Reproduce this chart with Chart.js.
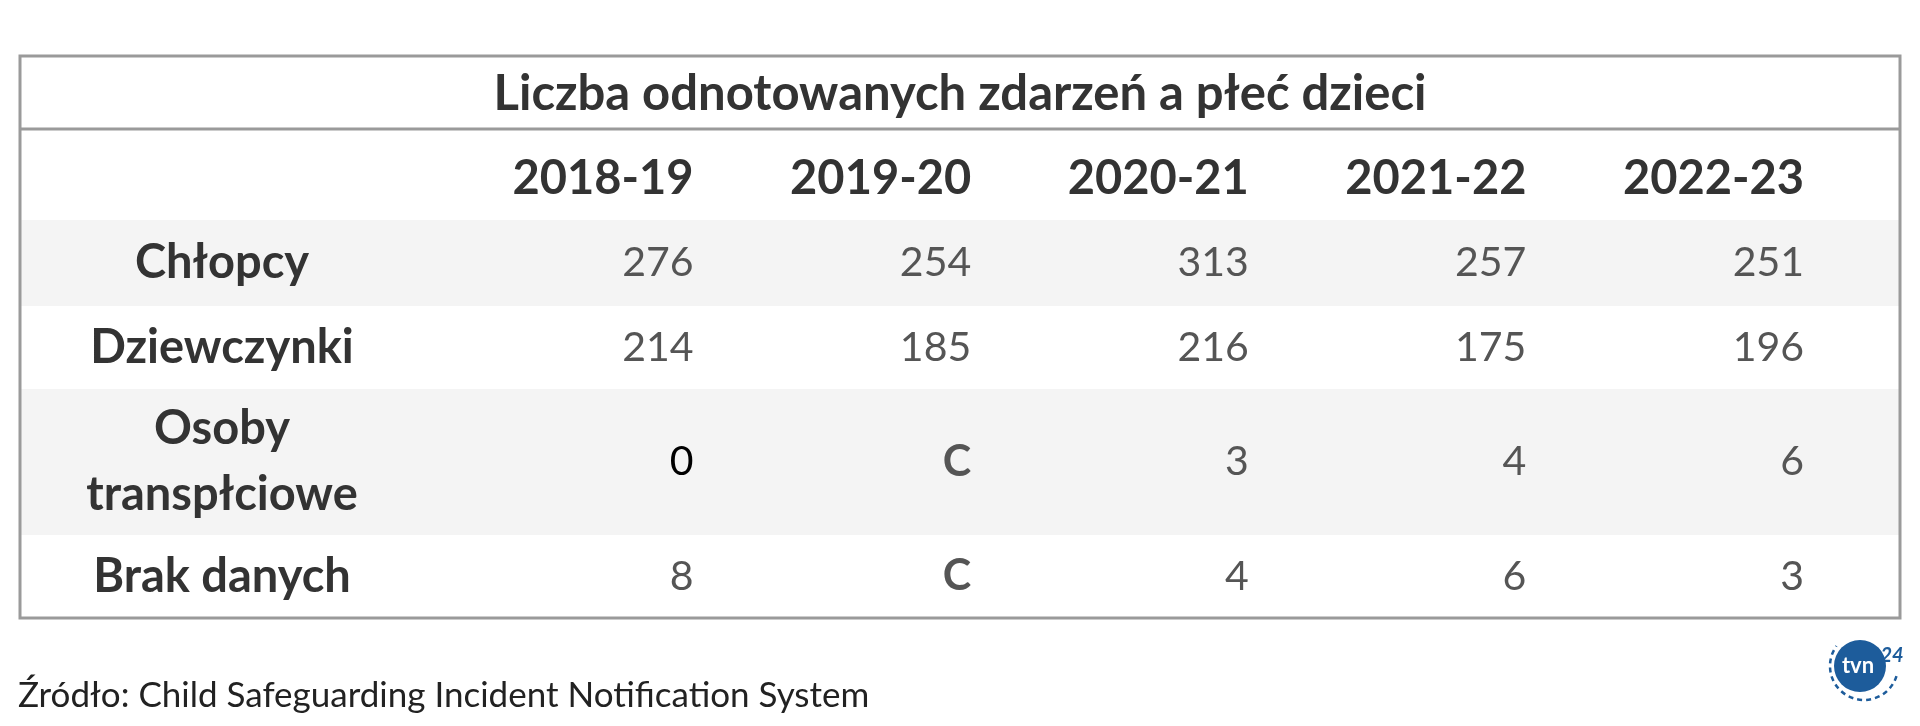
<!DOCTYPE html>
<html><head><meta charset="utf-8">
<script src="https://cdn.jsdelivr.net/npm/chart.js@4"></script>
<style>body{margin:0;background:#fff}canvas{display:block}</style>
</head><body>
<canvas id="c" width="1920" height="726"></canvas>
<script>
const title = "Liczba odnotowanych zdarzeń a płeć dzieci";
const years = ["2018-19", "2019-20", "2020-21", "2021-22", "2022-23"];
const rowLabels = [["Chłopcy"], ["Dziewczynki"], ["Osoby", "transpłciowe"], ["Brak danych"]];
const chlopcy = [276, 254, 313, 257, 251];
const dziewczynki = [214, 185, 216, 175, 196];
const transplciowe = [0, "C", 3, 4, 6];
const brakDanych = [8, "C", 4, 6, 3];
const source = "Źródło: Child Safeguarding Incident Notification System";

const rows = [chlopcy, dziewczynki, transplciowe, brakDanych];
// row edges in table units (top to bottom): title, header, 4 data rows
const edges = [0, 73, 164, 250, 333, 479, 562];
const mid = (i) => (edges[i] + edges[i + 1]) / 2;

const datasets = rows.map((r, ri) => ({
  data: r.map((v, i) => ({ x: years[i], y: mid(ri + 2), v })),
  pointRadius: 0,
}));

const tablePlugin = {
  id: "table",
  beforeDatasetsDraw(chart) {
    const { ctx, chartArea: a, scales } = chart;
    const L = a.left - 396, R = a.right + 96;
    const y = (v) => scales.y.getPixelForValue(v);
    ctx.save();
    ctx.fillStyle = "#f4f4f4";
    [2, 4].forEach((i) => ctx.fillRect(L, y(edges[i]), R - L, y(edges[i + 1]) - y(edges[i])));
    ctx.strokeStyle = "#9a9a9a";
    ctx.lineWidth = 3;
    ctx.strokeRect(L, y(0), R - L, y(562) - y(0));
    ctx.beginPath(); ctx.moveTo(L, y(edges[1])); ctx.lineTo(R, y(edges[1])); ctx.stroke();
    ctx.textBaseline = "middle";
    ctx.fillStyle = "#333";
    ctx.font = "bold 49px Lato";
    ctx.textAlign = "center";
    ctx.fillText(title, (L + R) / 2, y(mid(0)) + 2);
    const w = scales.x.getPixelForValue(1) - scales.x.getPixelForValue(0);
    ctx.textAlign = "right";
    ctx.font = "bold 47px Lato";
    years.forEach((yr, i) => ctx.fillText(yr, scales.x.getPixelForValue(i) + w / 2, y(mid(1)) + 4));
    ctx.textAlign = "center";
    rowLabels.forEach((lines, ri) => {
      const cy = y(mid(ri + 2));
      lines.forEach((t, k) => ctx.fillText(t, 222, cy + (k - (lines.length - 1) / 2) * 66));
    });
    // cells
    ctx.textAlign = "right";
    datasets.forEach((ds, di) => {
      chart.getDatasetMeta(di).data.forEach((el, i) => {
        const v = ds.data[i].v;
        if (v === "C") { ctx.font = "bold 43px Lato"; ctx.fillStyle = "#555"; }
        else { ctx.font = "41px Lato"; ctx.fillStyle = (v === 0 && di === 2) ? "#000" : "#555"; }
        ctx.fillText(String(v), el.x + w / 2, el.y);
      });
    });
    ctx.textAlign = "left";
    ctx.fillStyle = "#222";
    ctx.font = "35px Lato";
    ctx.fillText(source, 18, 696);
    // logo
    const lx = 1866, ly = 666;
    ctx.fillStyle = "#1d5c9b";
    ctx.beginPath(); ctx.arc(lx - 6, ly, 26, 0, Math.PI * 2); ctx.fill();
    ctx.strokeStyle = "#1d5c9b"; ctx.lineWidth = 2.5; ctx.setLineDash([5, 4]);
    ctx.beginPath(); ctx.arc(lx - 2, ly, 34, 0.3, Math.PI * 1.2); ctx.stroke();
    ctx.setLineDash([]);
    ctx.fillStyle = "#fff"; ctx.font = "bold 22px Lato"; ctx.textAlign = "center";
    ctx.fillText("tvn", lx - 8, ly);
    ctx.fillStyle = "#1d5c9b"; ctx.font = "bold italic 20px Lato";
    ctx.fillText("24", lx + 26, ly - 10);
    ctx.restore();
  },
};

new Chart(document.getElementById("c"), {
  type: "scatter",
  data: { datasets },
  options: {
    responsive: false,
    animation: false,
    layout: { padding: { left: 416, right: 116, top: 56, bottom: 108 } },
    plugins: { legend: { display: false }, tooltip: { enabled: false } },
    scales: {
      x: { type: "category", labels: years, offset: true, display: false },
      y: { type: "linear", min: 0, max: 562, reverse: true, display: false },
    },
  },
  plugins: [tablePlugin],
});
</script>
</body></html>
